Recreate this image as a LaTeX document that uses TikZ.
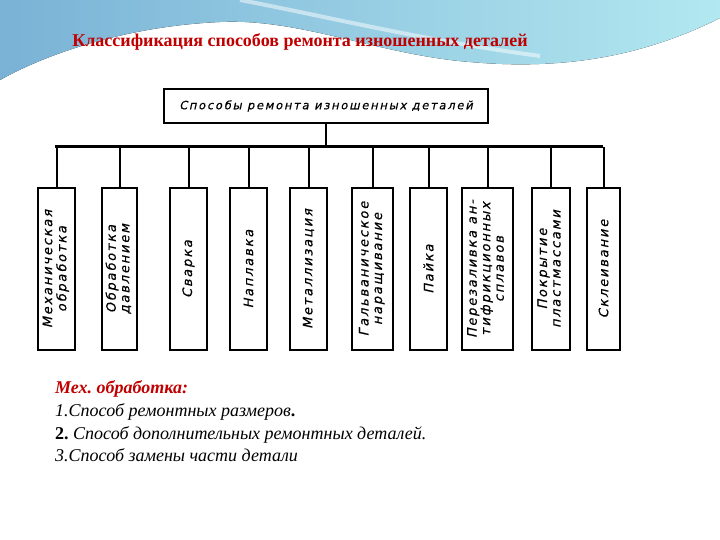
\documentclass[tikz,border=0pt]{standalone}
\usepackage{fontspec}
\setmainfont{Liberation Serif}
\newfontfamily\schemefont[LetterSpace=14, FakeBold=0.6, FakeSlant=0.22]{DejaVu Sans}
\newfontfamily\rootfont[LetterSpace=15, FakeBold=0.6, FakeSlant=0.22]{DejaVu Sans}
\usetikzlibrary{positioning, calc}
\definecolor{titulored}{RGB}{192, 0, 0}
\definecolor{wavedeep}{RGB}{122, 178, 214}
\definecolor{wavelight}{RGB}{178, 232, 240}
\frenchspacing

\begin{document}
\begin{tikzpicture}[
    x=1pt, y=-1pt,
    every node/.style={inner sep=0pt},
    methodbox/.style={draw, line width=1.6pt, minimum height=162pt,
        font=\schemefont\fontsize{13}{13.5}\selectfont},
    dropline/.style={line width=2pt},
    itemtext/.style={anchor=base west, font=\itshape\fontsize{18}{21}\selectfont}
]
\useasboundingbox (0,0) rectangle (720,540);

% ------------------------------------------------
% Фон слайда
% ------------------------------------------------

\fill[left color=wavedeep, right color=wavelight]
    (0,0) -- (720,0) -- (720,18)
    .. controls (640,58) and (560,70) .. (470,62)
    .. controls (380,55) and (300,18) .. (220,22)
    .. controls (130,26) and (50,52) .. (0,80) -- cycle;
\draw[white, line width=4pt, opacity=0.5]
    (240,0) .. controls (320,15) and (420,40) .. (540,56);

\node[
    font=\bfseries\fontsize{18}{21}\selectfont,
    text=titulored
] (titulo) at (300,42)
{Классификация способов ремонта изношенных деталей};

% ------------------------------------------------
% Схема
% ------------------------------------------------

\node[
    draw,
    line width=2pt,
    minimum width=324pt,
    minimum height=34pt,
    font=\rootfont\fontsize{11.5}{13}\selectfont
] (raiz) at (326,106)
{Способы ремонта изношенных деталей};

\coordinate (barraE) at (55,147);
\coordinate (barraD) at (603,147);
\draw[line width=3pt] (barraE) -- (barraD);
\draw[dropline] (raiz.south) -- (raiz.south |- barraE);

\node[methodbox, minimum width=37pt] (mec) at (56.5,269)
{\rotatebox{90}{\begin{tabular}{@{}c@{}}Механическая\\обработка\end{tabular}}};
\node[methodbox, minimum width=35pt] (dav) at (119.5,269)
{\rotatebox{90}{\begin{tabular}{@{}c@{}}Обработка\\давлением\end{tabular}}};
\node[methodbox, minimum width=37pt] (svar) at (188.5,269)
{\rotatebox{90}{Сварка}};
\node[methodbox, minimum width=37pt] (napl) at (248.5,269)
{\rotatebox{90}{Наплавка}};
\node[methodbox, minimum width=37pt] (metal) at (308.5,269)
{\rotatebox{90}{Металлизация}};
\node[methodbox, minimum width=41pt] (galv) at (372.5,269)
{\rotatebox{90}{\begin{tabular}{@{}c@{}}Гальваническое\\наращивание\end{tabular}}};
\node[methodbox, minimum width=37pt] (pajka) at (428.5,269)
{\rotatebox{90}{Пайка}};
\node[methodbox, minimum width=51pt] (pere) at (487.5,269)
{\rotatebox{90}{\begin{tabular}{@{}c@{}}Перезаливка ан-\\тифрикционных\\сплавов\end{tabular}}};
\node[methodbox, minimum width=38pt] (pokr) at (551,269)
{\rotatebox{90}{\begin{tabular}{@{}c@{}}Покрытие\\пластмассами\end{tabular}}};
\node[methodbox, minimum width=33pt] (skl) at (603.5,269)
{\rotatebox{90}{Склеивание}};

\foreach \caixa in {mec, dav, svar, napl, metal, galv, pajka, pere, pokr, skl}
    \draw[dropline] (\caixa.north) -- (\caixa.north |- barraE);

% ------------------------------------------------
% Пояснение
% ------------------------------------------------

\node[
    itemtext,
    font=\bfseries\itshape\fontsize{18}{21}\selectfont,
    text=titulored
] (mexhead) at (55,393)
{Мех. обработка:};

\node[itemtext] (item1) at (55,416)
{1.Способ ремонтных размеров\textbf{\upshape .}};

\node[itemtext] (item2) at (55,439)
{\textbf{\upshape 2.} Способ дополнительных ремонтных деталей.};

\node[itemtext] (item3) at (55,461)
{3.Способ замены части детали};

\end{tikzpicture}
\end{document}
